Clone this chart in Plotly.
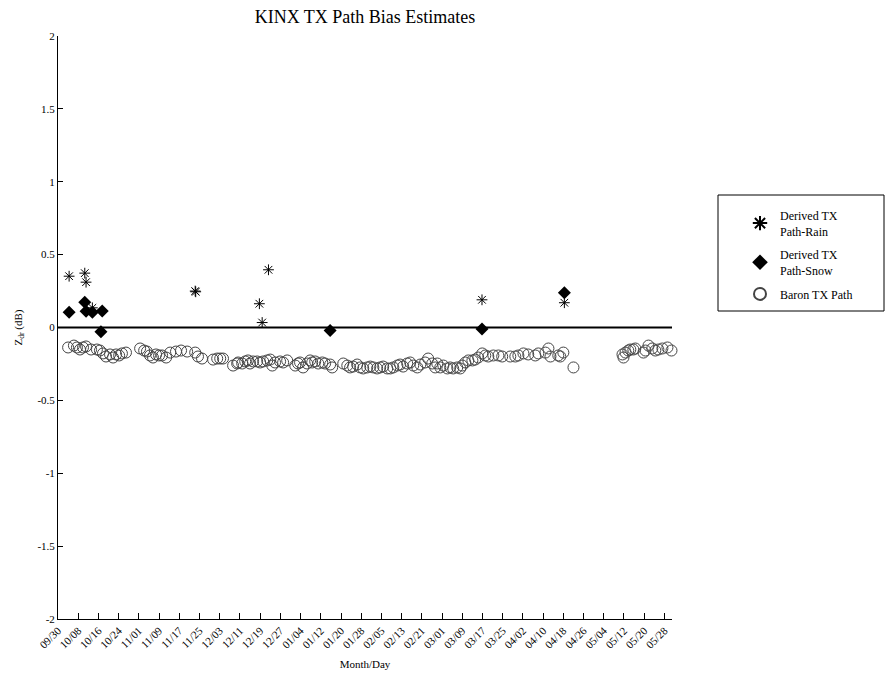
import plotly.graph_objects as go

# x = days since 09/30
tick_labels = ["09/30", "10/08", "10/16", "10/24", "11/01", "11/09", "11/17", "11/25",
               "12/03", "12/11", "12/19", "12/27", "01/04", "01/12", "01/20", "01/28",
               "02/05", "02/13", "02/21", "03/01", "03/09", "03/17", "03/25", "04/02",
               "04/10", "04/18", "04/26", "05/04", "05/12", "05/20", "05/28"]
tick_days = [8 * i for i in range(len(tick_labels))]

rain_days = [4.4, 10.6, 11.1, 13.6, 54.3, 54.5, 79.7, 80.8, 83.3, 167.8, 200.4]
rain_vals = [0.352, 0.373, 0.311, 0.135, 0.25, 0.245, 0.163, 0.034, 0.396, 0.19, 0.17]

snow_days = [4.4, 10.6, 11.1, 13.6, 17.5, 17.0, 107.7, 167.8, 200.4]
snow_vals = [0.105, 0.174, 0.112, 0.105, 0.114, -0.03, -0.02, -0.01, 0.238]

baron_days = [4.0, 6.3, 7.5, 8.7, 9.9, 11.1, 13.1, 15.4, 16.6, 17.8, 19.0, 20.6, 21.8, 23.0, 24.2, 25.3, 26.9,
              32.5, 34.1, 35.2, 36.4, 37.6, 38.8, 40.0, 41.2, 42.8, 44.4, 46.7, 48.7, 51.1, 54.3, 55.4, 57.0,
              61.4, 63.0, 64.2, 65.3,
              69.3, 70.9, 71.3, 72.9, 74.1, 75.2, 76.0, 77.2, 78.8, 80.0, 81.2, 82.8, 84.0, 84.8, 85.9, 87.9, 89.1, 90.7,
              93.9, 95.0, 95.8, 97.0, 98.6, 99.8, 100.6, 101.8, 103.0, 104.6, 105.7, 107.7, 108.5,
              112.9, 114.5, 115.6, 116.8, 118.4, 119.6, 120.8, 122.4, 123.6, 124.8, 126.3, 127.5, 128.7, 130.3,
              131.5, 132.7, 134.3, 135.4, 136.6, 138.2, 139.4, 140.6, 142.2, 143.4, 145.3, 146.5, 148.1, 149.3,
              150.1, 151.3, 152.5, 154.1, 155.2, 156.4, 158.0, 159.2, 160.0, 161.2, 162.4, 164.0, 165.1, 166.3,
              167.9, 169.1, 170.3, 172.3, 174.3, 175.8, 179.0, 181.0, 182.2, 184.2, 186.1, 188.9, 190.1, 192.9,
              194.1, 194.9, 198.0, 198.8, 200.0, 204.0,
              223.4, 223.8, 224.6, 225.7, 226.5, 227.7, 228.5, 231.7, 232.5, 233.7, 235.2, 236.4, 237.6, 239.2,
              241.2, 242.8]
baron_vals = [-0.137, -0.124, -0.137, -0.151, -0.137, -0.130, -0.151, -0.151, -0.158, -0.178, -0.199, -0.185,
              -0.206, -0.185, -0.192, -0.178, -0.172,
              -0.144, -0.158, -0.165, -0.192, -0.206, -0.185, -0.192, -0.192, -0.206, -0.172, -0.165, -0.158,
              -0.165, -0.172, -0.199, -0.213,
              -0.220, -0.213, -0.213, -0.213,
              -0.261, -0.247, -0.240, -0.247, -0.233, -0.226, -0.247, -0.233, -0.233, -0.240, -0.233, -0.226,
              -0.220, -0.261, -0.240, -0.233, -0.240, -0.226,
              -0.261, -0.247, -0.240, -0.274, -0.247, -0.226, -0.240, -0.233, -0.247, -0.240, -0.247, -0.254, -0.274,
              -0.247, -0.261, -0.274, -0.268, -0.254, -0.274, -0.281, -0.274, -0.268, -0.274, -0.281, -0.274,
              -0.268, -0.281, -0.281, -0.274, -0.261, -0.254, -0.268, -0.247, -0.240, -0.261, -0.274, -0.254,
              -0.240, -0.213, -0.247, -0.274,
              -0.247, -0.274, -0.261, -0.281, -0.274, -0.281, -0.274, -0.281, -0.261, -0.240, -0.226, -0.226,
              -0.220, -0.206, -0.178, -0.192, -0.199, -0.192, -0.192, -0.199, -0.199, -0.199, -0.192, -0.178,
              -0.185, -0.192, -0.178, -0.172, -0.144, -0.199, -0.192, -0.199, -0.172, -0.274,
              -0.185, -0.206, -0.172, -0.158, -0.151, -0.151, -0.144, -0.172, -0.158, -0.124, -0.144, -0.158,
              -0.151, -0.144, -0.137, -0.158]

y_ticks = [-2, -1.5, -1, -0.5, 0, 0.5, 1, 1.5, 2]
y_tick_text = ["-2", "-1.5", "-1", "-0.5", "0", "0.5", "1", "1.5", "2"]

FONT = "Liberation Serif, Times New Roman, serif"

fig = go.Figure()
fig.add_trace(go.Scatter(
    x=rain_days, y=rain_vals, mode="markers", name="Derived TX<br>Path-Rain", legendgroup="rain",
    marker=dict(symbol="asterisk-open", size=9, color="black", line=dict(color="black", width=1)),
    cliponaxis=False))
fig.add_trace(go.Scatter(
    x=snow_days, y=snow_vals, mode="markers", name="Derived TX<br>Path-Snow", legendgroup="snow",
    marker=dict(symbol="diamond", size=10, color="black", line=dict(width=0)),
    cliponaxis=False))
fig.add_trace(go.Scatter(
    x=baron_days, y=baron_vals, mode="markers", name="Baron TX Path", legendgroup="baron",
    marker=dict(symbol="circle-open", size=11, color="#444444", line=dict(width=1)),
    cliponaxis=False))

fig.add_shape(type="line", xref="paper", x0=0, x1=1, yref="y", y0=0, y1=0,
              line=dict(color="black", width=2), layer="below")

# legend frame (paper coords of plot area: x 58..672, y 36..619)
fig.add_shape(type="rect", xref="paper", yref="paper",
              x0=(718 - 58) / 614, x1=(884 - 58) / 614,
              y0=(619 - 311) / 583, y1=(619 - 195) / 583,
              line=dict(color="black", width=1), fillcolor="rgba(0,0,0,0)")

fig.update_layout(
    width=886, height=675,
    margin=dict(l=58, r=214, t=36, b=56),
    paper_bgcolor="white", plot_bgcolor="white",
    font=dict(family=FONT, size=11, color="black"),
    title=dict(text="KINX TX Path Bias Estimates", x=0.5, xref="paper", y=0.985, yanchor="top",
               font=dict(family=FONT, size=18, color="black")),
    showlegend=True,
    legend=dict(x=(740 - 58) / 614, y=(619 - 201) / 583, xanchor="left", yanchor="top",
                borderwidth=0, bgcolor="rgba(0,0,0,0)",
                font=dict(family=FONT, size=12, color="black"),
                itemsizing="constant", tracegroupgap=5),
    xaxis=dict(range=[0, 243], tickmode="array", tickvals=tick_days, ticktext=tick_labels,
               tickangle=-45, ticks="inside", ticklen=6, tickcolor="black",
               showline=True, linecolor="black", linewidth=1, showgrid=False, zeroline=False,
               automargin=False,
               title=dict(text="Month/Day", font=dict(family=FONT, size=11), standoff=10),
               tickfont=dict(family=FONT, size=11)),
    yaxis=dict(range=[-2, 2], tickmode="array", tickvals=y_ticks, ticktext=y_tick_text,
               ticks="inside", ticklen=5, tickcolor="black",
               showline=True, linecolor="black", linewidth=1, showgrid=False, zeroline=False,
               automargin=False,
               title=dict(text="Z<sub>dr</sub> (dB)", font=dict(family=FONT, size=11), standoff=12),
               tickfont=dict(family=FONT, size=11)),
)

fig.write_html("out.html", config={"displayModeBar": False},
               post_script="document.body.style.margin='0';")
